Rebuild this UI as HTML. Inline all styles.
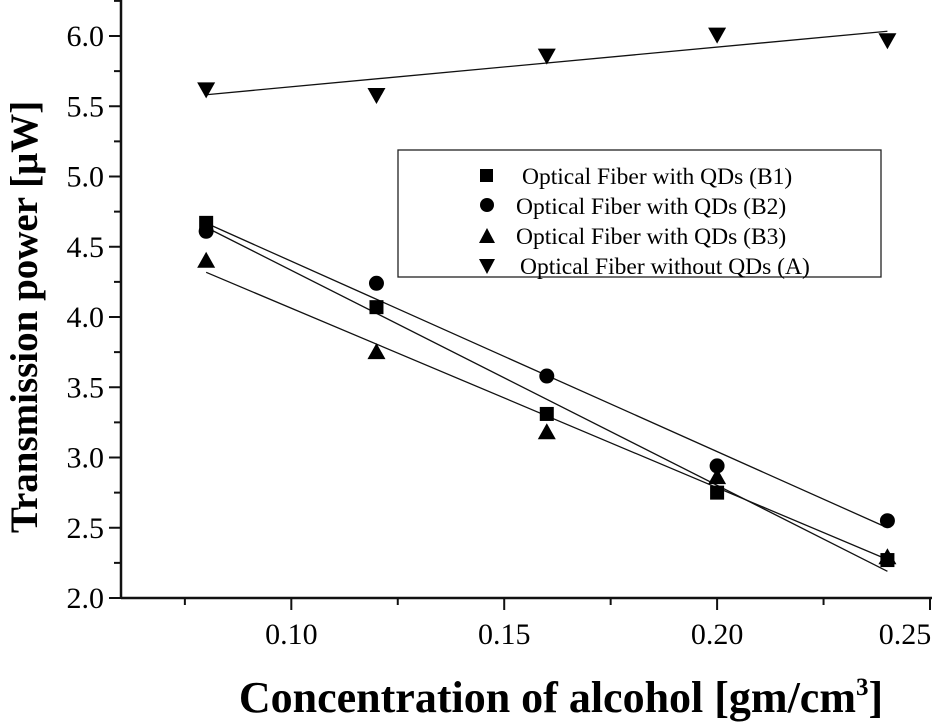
<!DOCTYPE html>
<html><head><meta charset="utf-8"><style>
html,body{margin:0;padding:0;background:#fff;}
svg{display:block;font-family:"Liberation Serif",serif;}
</style></head><body>
<svg id="chart" width="946" height="723">
<g id="axes"></g>
<g id="fits"></g>
<g id="marks"></g>
<g>
<rect x="398" y="150" width="483" height="127" fill="#fff" stroke="#222" stroke-width="1.3"/>
<rect x="480" y="169" width="13" height="13" fill="#000"/>
<text x="522" y="184" font-size="23.5">Optical Fiber with QDs (B1)</text>
<circle cx="487" cy="205" r="7" fill="#000"/>
<text x="516" y="214" font-size="23.5">Optical Fiber with QDs (B2)</text>
<polygon points="479,243 495,243 487,228" fill="#000"/>
<text x="516" y="244" font-size="23.5">Optical Fiber with QDs (B3)</text>
<polygon points="479,259 495,259 487,274" fill="#000"/>
<text x="520" y="274" font-size="23.5">Optical Fiber without QDs (A)</text>
</g>
<text x="0" y="0" transform="translate(37,317) rotate(-90)" text-anchor="middle" font-size="39" font-weight="bold">Transmission power [μW]</text>
<text x="561" y="712" text-anchor="middle" font-size="44" font-weight="bold">Concentration of alcohol [gm/cm<tspan dy="-17" font-size="25">3</tspan><tspan dy="17">]</tspan></text>
</svg>
<script>
const xValues=[0.08,0.12,0.16,0.20,0.24];
const seriesB1=[4.67,4.07,3.31,2.75,2.27];
const seriesB2=[4.61,4.24,3.58,2.94,2.55];
const seriesB3=[4.40,3.75,3.18,2.86,2.29];
const seriesA=[5.62,5.58,5.86,6.01,5.97];
const xTickLabels=["0.10","0.15","0.20","0.25"];
const yTickLabels=["2.0","2.5","3.0","3.5","4.0","4.5","5.0","5.5","6.0"];

const NS="http://www.w3.org/2000/svg";
const X0=121,X1=930,XMIN=0.06,XMAX=0.25;
const YB=598,YMIN=2.0,PXPER=140.5;
const sx=v=>X0+(v-XMIN)/(XMAX-XMIN)*(X1-X0);
const sy=v=>YB-(v-YMIN)*PXPER;
function mk(tag,attrs,parent){const e=document.createElementNS(NS,tag);for(const k in attrs)e.setAttribute(k,attrs[k]);parent.appendChild(e);return e;}
const axes=document.getElementById('axes');
let l=mk('line',{x1:X0,y1:0,x2:X0,y2:YB,stroke:'#111','stroke-width':2.5},axes);


l=mk('line',{x1:X0,y1:YB,x2:X1+2,y2:YB,stroke:'#111','stroke-width':2.5},axes);


yTickLabels.forEach((t,i)=>{const v=parseFloat(t);const y=sy(v);
 const tk=mk('line',{x1:X0-12,y1:y,x2:X0,y2:y,stroke:'#111','stroke-width':2},axes);
 
 
 const tx=mk('text',{x:X0-17,y:y+10,'text-anchor':'end','font-size':30},axes);tx.textContent=t;
 
 
 const m=sy(v+0.25);if(m>0){const mt=mk('line',{x1:X0-7,y1:m,x2:X0,y2:m,stroke:'#111','stroke-width':2},axes);
 
 }
});
xTickLabels.forEach(t=>{const v=parseFloat(t);const x=sx(v);
 const tk=mk('line',{x1:x,y1:YB,x2:x,y2:YB+12,stroke:'#111','stroke-width':2},axes);
 
 
 const tx=mk('text',{x:Math.min(x,905),y:YB+46,'text-anchor':'middle','font-size':30},axes);tx.textContent=t;
 
 
 const mx=sx(v-0.025);if(mx>X0){const mt=mk('line',{x1:mx,y1:YB,x2:mx,y2:YB+7,stroke:'#111','stroke-width':2},axes);
 
 }
});
const fits=document.getElementById('fits'),marks=document.getElementById('marks');
function fit(ys){const n=xValues.length;const mx=xValues.reduce((a,b)=>a+b)/n,my=ys.reduce((a,b)=>a+b)/n;
 let sxy=0,sxx=0;xValues.forEach((x,i)=>{sxy+=(x-mx)*(ys[i]-my);sxx+=(x-mx)*(x-mx);});const b=sxy/sxx;return [b,my-b*mx];}
const series=[["b1",seriesB1,"sq"],["b2",seriesB2,"ci"],["b3",seriesB3,"up"],["a",seriesA,"dn"]];
series.forEach(([name,ys,shape])=>{
 const [b,a]=fit(ys);const xa=xValues[0],xb=xValues[xValues.length-1];
 const fl=mk('line',{x1:sx(xa),y1:sy(a+b*xa),x2:sx(xb),y2:sy(a+b*xb),stroke:'#111','stroke-width':1.3},fits);
 
 
 ys.forEach((v,i)=>{const x=sx(xValues[i]),y=sy(v);let e;
  if(shape==="sq")e=mk('rect',{x:x-7,y:y-7,width:14,height:14,fill:'#000'},marks);
  else if(shape==="ci")e=mk('circle',{cx:x,cy:y,r:7.5,fill:'#000'},marks);
  else if(shape==="up")e=mk('polygon',{points:`${x-9},${y+7} ${x+9},${y+7} ${x},${y-9}`,fill:'#000'},marks);
  else e=mk('polygon',{points:`${x-9},${y-7} ${x+9},${y-7} ${x},${y+9}`,fill:'#000'},marks);
  
  
 });
});
</script>
</body></html>
